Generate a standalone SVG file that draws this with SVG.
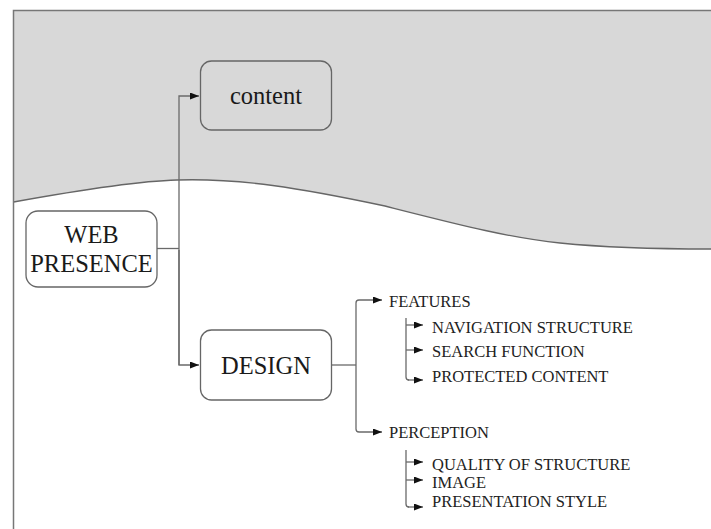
<svg xmlns="http://www.w3.org/2000/svg" width="711" height="529" viewBox="0 0 711 529">
<defs>
<marker id="ah" viewBox="0 0 9 7" refX="9" refY="3.5" markerWidth="9" markerHeight="7" markerUnits="userSpaceOnUse" orient="auto">
<path d="M0,0 L9,3.5 L0,7 Z" fill="#111"/>
</marker>
<style>
.frame{fill:none;stroke:#777;stroke-width:1.5}
.box{stroke:#666;stroke-width:1.3}
.big{font-size:24.5px;fill:#1a1a1a;text-anchor:middle}
.small{font-size:16.5px;fill:#222}
.conn{fill:none;stroke:#6a6a6a;stroke-width:1.3}
.arr{marker-end:url(#ah)}
</style>
</defs>
<rect width="711" height="529" fill="#fff"/>
<g id="background">
<path d="M13.5,10.5 L711,10.5 L711,249 C650,249 610,248 560,243 C510,238 460,225 385,206 C300,188 240,178 177,180 C140,181 80,190 13.5,202 Z" fill="#d8d8d8"/>
<path d="M13.5,202 C80,190 140,181 177,180 C240,178 300,188 385,206 C460,225 510,238 560,243 C610,248 650,249 711,249" fill="none" stroke="#666" stroke-width="1.3"/>
<path class="frame" d="M13.5,529 L13.5,10.5 L711,10.5"/>
</g>
<g id="connectors">
<path class="conn" d="M157,248.5 L179,248.5"/>
<path class="conn arr" d="M179,365 L179,96 L199,96"/>
<path class="conn arr" d="M179,250 L179,365 L199,365"/>
<path class="conn" d="M332,365 L356,365"/>
<path class="conn arr" d="M356,365 L356,303 Q356,300 359,300 L382,300"/>
<path class="conn arr" d="M356,365 L356,429 Q356,432 359,432 L382,432"/>
<path class="conn" d="M406,318 L406,377 Q406,380 409,380"/>
<path class="conn arr" d="M406,325 L423,325"/>
<path class="conn arr" d="M406,350 L423,350"/>
<path class="conn arr" d="M408,380 L423,380"/>
<path class="conn" d="M406,450 L406,504 Q406,507 409,507"/>
<path class="conn arr" d="M406,462 L423,462"/>
<path class="conn arr" d="M406,480 L423,480"/>
<path class="conn arr" d="M408,507 L423,507"/>
</g>
<g font-family="'Liberation Serif', 'Times New Roman', serif">
<g id="content">
<rect class="box" x="200.5" y="61" width="131" height="69" rx="11" fill="#d8d8d8"/>
<text class="big" x="266" y="104">content</text>
</g>
<g id="web-presence">
<rect class="box" x="26" y="211" width="131" height="76" rx="12" fill="#fff"/>
<text class="big" x="91.5" y="243">WEB</text>
<text class="big" x="91.5" y="272">PRESENCE</text>
</g>
<g id="design">
<rect class="box" x="200.5" y="330" width="131" height="70" rx="11" fill="#fff"/>
<text class="big" x="266" y="374">DESIGN</text>
</g>
<g id="features"><text class="small" x="389" y="307">FEATURES</text></g>
<g id="navigation-structure"><text class="small" x="432" y="332.5">NAVIGATION STRUCTURE</text></g>
<g id="search-function"><text class="small" x="432" y="357">SEARCH FUNCTION</text></g>
<g id="protected-content"><text class="small" x="432" y="381.5">PROTECTED CONTENT</text></g>
<g id="perception"><text class="small" x="389" y="438">PERCEPTION</text></g>
<g id="quality-of-structure"><text class="small" x="432" y="470">QUALITY OF STRUCTURE</text></g>
<g id="image"><text class="small" x="432" y="488">IMAGE</text></g>
<g id="presentation-style"><text class="small" x="432" y="507">PRESENTATION STYLE</text></g>
</g>
</svg>
